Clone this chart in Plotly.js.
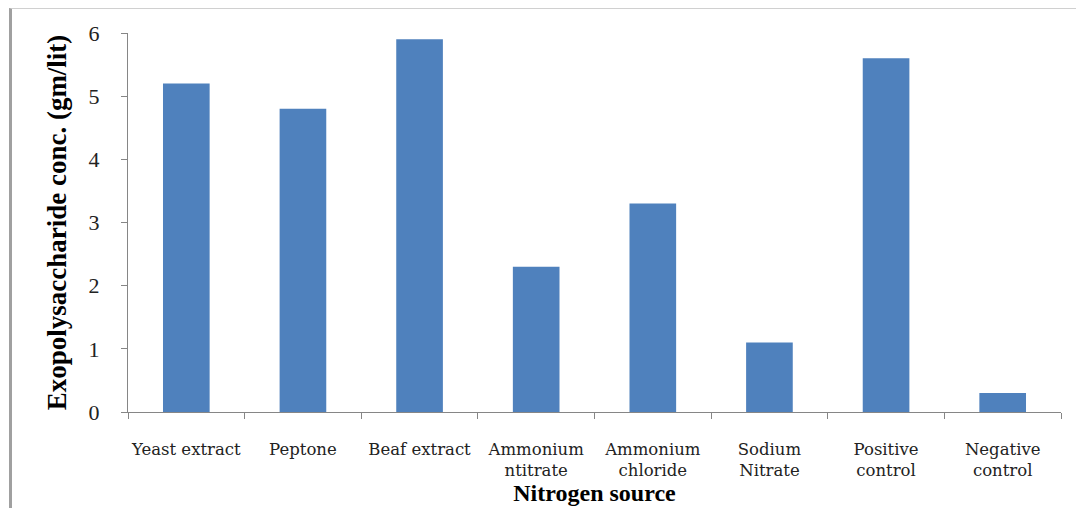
<!DOCTYPE html>
<html>
<head>
<meta charset="utf-8">
<script src="https://cdn.plot.ly/plotly-3.0.1.min.js"></script>
<style>
html,body{margin:0;padding:0;background:#fff;}
#frame{position:absolute;left:9px;top:8px;width:1067px;height:500px;border-left:3px solid #a0a0a0;border-top:1px solid #d0d0d0;box-sizing:border-box;}
#chart{position:absolute;left:0;top:0;width:1076px;height:508px;}
</style>
</head>
<body>
<div id="frame"></div>
<div id="chart"></div>
<script>
const categories = ["Yeast extract","Peptone","Beaf extract","Ammonium<br>ntitrate","Ammonium<br>chloride","Sodium<br>Nitrate","Positive<br>control","Negative<br>control"];
const values = [5.2, 4.8, 5.9, 2.3, 3.3, 1.1, 5.6, 0.3];
const yTicks = [0,1,2,3,4,5,6];

Plotly.newPlot('chart', [{
  type: 'bar',
  x: categories,
  y: values,
  marker: {color: '#4f81bd'},
  hoverinfo: 'none'
}], {
  width: 1076, height: 508,
  margin: {l: 128, r: 15, t: 33, b: 96},
  paper_bgcolor: 'rgba(0,0,0,0)',
  plot_bgcolor: 'rgba(0,0,0,0)',
  bargap: 0.6,
  showlegend: false,
  xaxis: {
    type: 'category',
    tickson: 'boundaries',
    tickangle: 0,
    ticks: 'outside', ticklen: 6, tickcolor: '#868686',
    showline: true, linecolor: '#868686', linewidth: 1,
    showgrid: false,
    tickfont: {family: 'DejaVu Serif', size: 16.5, color: '#222'},
    ticklabelstandoff: 22,
    title: {text: '<b>Nitrogen source</b>', font: {family: 'Liberation Serif', size: 24, color: '#000'}, standoff: 0}
  },
  yaxis: {
    range: [0, 6],
    tickvals: yTicks,
    ticks: 'outside', ticklen: 6, tickcolor: '#868686',
    showline: true, linecolor: '#868686', linewidth: 1,
    showgrid: false, zeroline: false,
    tickfont: {family: 'Liberation Serif', size: 22, color: '#222'},
    ticklabelstandoff: 17,
    title: {text: '<b>Exopolysaccharide conc. (gm/lit)</b>', font: {family: 'Liberation Serif', size: 27, color: '#000'}, standoff: 14}
  }
}, {displayModeBar: false, staticPlot: true});
</script>
</body>
</html>
